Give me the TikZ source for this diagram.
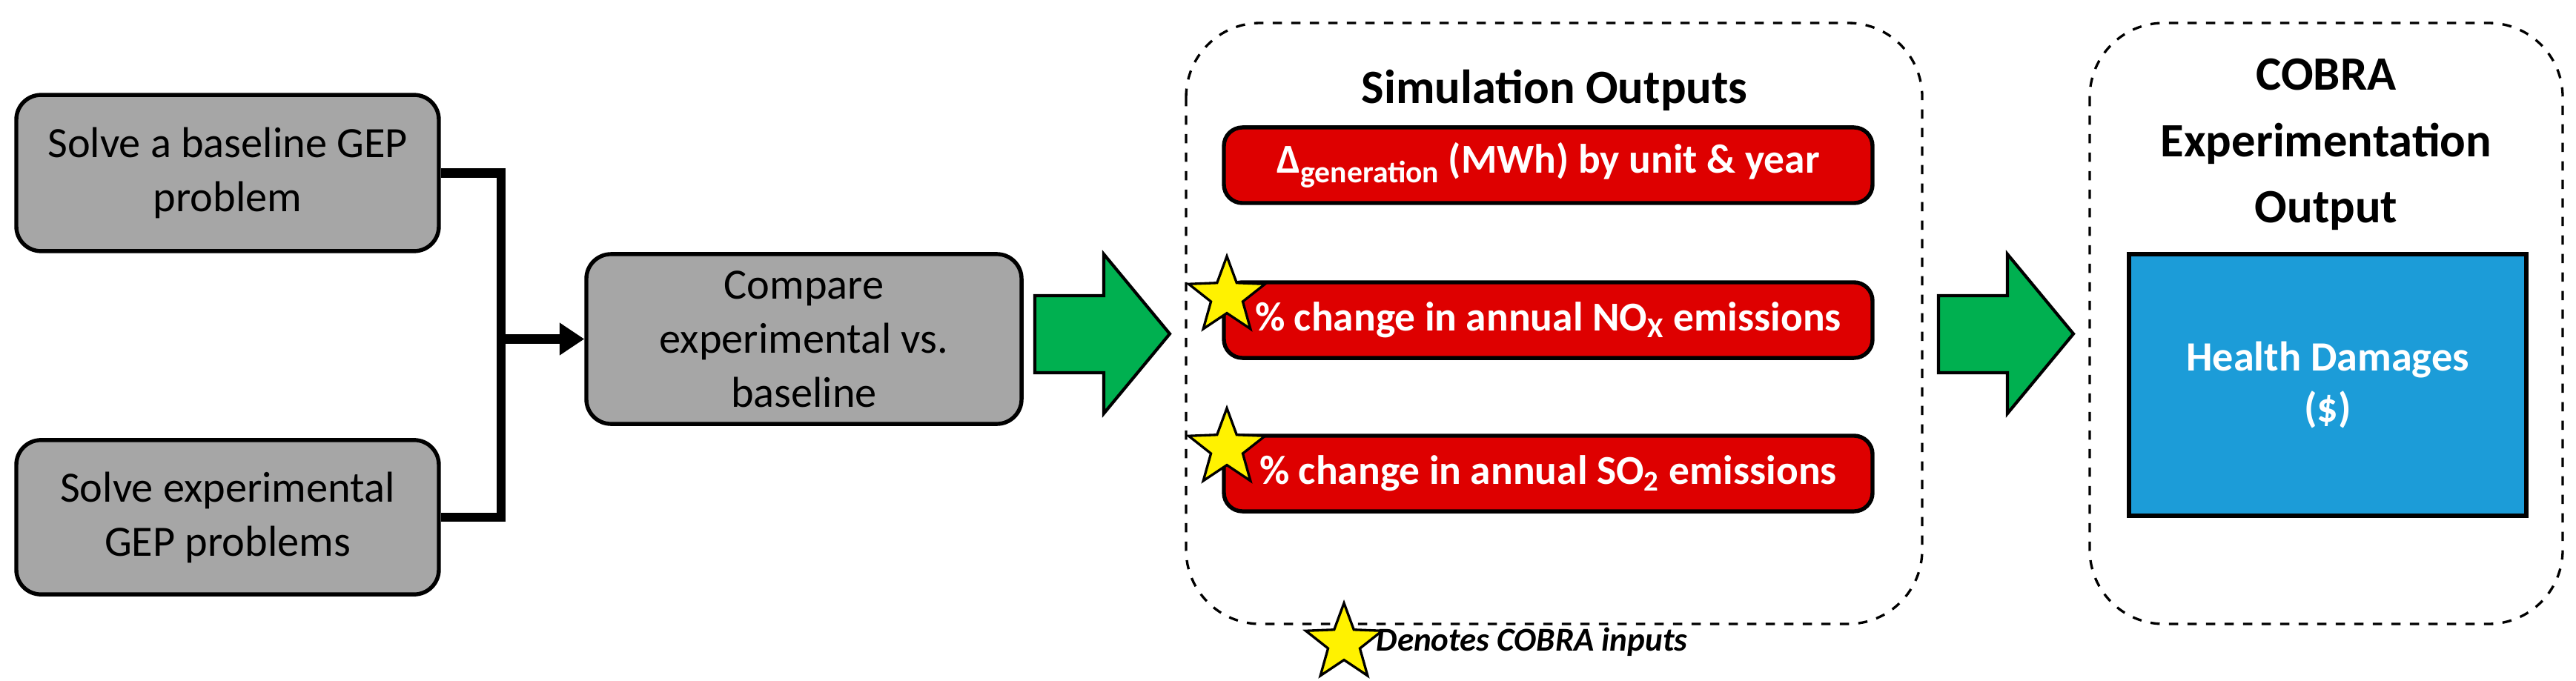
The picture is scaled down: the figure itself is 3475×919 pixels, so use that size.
\documentclass[tikz,border=0pt]{standalone}
\usepackage{fontspec}
\setmainfont{Carlito}
\usetikzlibrary{shapes.geometric,arrows.meta}
\definecolor{gbox}{HTML}{A6A6A6}
\definecolor{rbox}{HTML}{DE0000}
\definecolor{bbox}{HTML}{1C9CD8}
\definecolor{garr}{HTML}{00B050}
\begin{document}
\begin{tikzpicture}[x=0.24pt,y=-0.24pt,
  graybox/.style={draw=black,line width=1.3pt,fill=gbox,rounded corners=8pt,align=center,font=\fontsize{14}{17.5}\selectfont,inner sep=0pt},
  redbox/.style={draw=black,line width=1.3pt,fill=rbox,rounded corners=6pt,align=center,text=white,font=\fontsize{13.3}{16}\selectfont\bfseries,minimum width=210pt,minimum height=24.5pt,inner sep=0pt},
  dashbox/.style={draw=black,dashed,line width=0.8pt,rounded corners=24pt},
  garrow/.style={draw=black,line width=1pt,fill=garr},
  ystar/.style={star,star points=5,star point ratio=2.4,fill=yellow,draw=black,line width=0.8pt,minimum size=26pt,inner sep=0pt},
  ttl/.style={font=\fontsize{15.5}{21.5}\selectfont\bfseries,align=center}]
\useasboundingbox (0,0) rectangle (3475,919);
% left boxes
\node[graybox,minimum width=136.8pt,minimum height=50.6pt] (b1) at (307,233.5) {Solve a baseline GEP\\problem};
\node[graybox,minimum width=136.8pt,minimum height=50pt] (b2) at (307,698) {Solve experimental\\GEP problems};
\node[graybox,minimum width=140.9pt,minimum height=55pt] (b3) at (1084.5,457.5) {Compare\\experimental vs.\\baseline};
\coordinate (j1) at (676,233.5);
\coordinate (j2) at (676,698);
\coordinate (jm) at (676,457.5);
\draw[line width=3pt] (b1.east) -- (j1) -- (j2) -- (b2.east);
\draw[line width=3pt,-{Triangle[length=8pt,width=10pt]}] (jm) -- (b3.west);
% green arrows
\draw[garrow] (1396,399) -- (1489,399) -- (1489,343) -- (1578,450.5) -- (1489,558) -- (1489,503) -- (1396,503) -- cycle;
\draw[garrow] (2615,399) -- (2708,399) -- (2708,343) -- (2797,450.5) -- (2708,558) -- (2708,503) -- (2615,503) -- cycle;
% simulation outputs
\draw[dashbox] (1600,31) rectangle (2593,842);
\node[ttl] (st) at (2097,122) {Simulation Outputs};
\node[redbox] (r1) at (2088.5,223) {Δ\raisebox{-0.45ex}{\fontsize{10}{10}\selectfont generation} (MWh) by unit \& year};
\node[redbox] (r2) at (2088.5,432) {\% change in annual NO\textsubscript{X} emissions};
\node[redbox] (r3) at (2088.5,639) {\% change in annual SO\textsubscript{2} emissions};
\node[ystar] (s1) at (1655,400) {};
\node[ystar] (s2) at (1655,605) {};
% cobra
\draw[dashbox] (2819,31) rectangle (3457,842);
\node[ttl] (ct) at (3138,195) {COBRA\\Experimentation\\Output};
\node[draw=black,line width=1.3pt,fill=bbox,minimum width=128.6pt,minimum height=84.7pt,inner sep=0pt,text=white,font=\fontsize{13.5}{16.5}\selectfont\bfseries,align=center] (hd) at (3140,519.5) {Health Damages\\(\$)};
% legend
\node[ystar] (s3) at (1813,868) {};
\node[anchor=west,font=\fontsize{10.8}{14}\selectfont\bfseries\itshape] (lg) at (1842,866) {Denotes COBRA inputs};
\end{tikzpicture}
\end{document}
